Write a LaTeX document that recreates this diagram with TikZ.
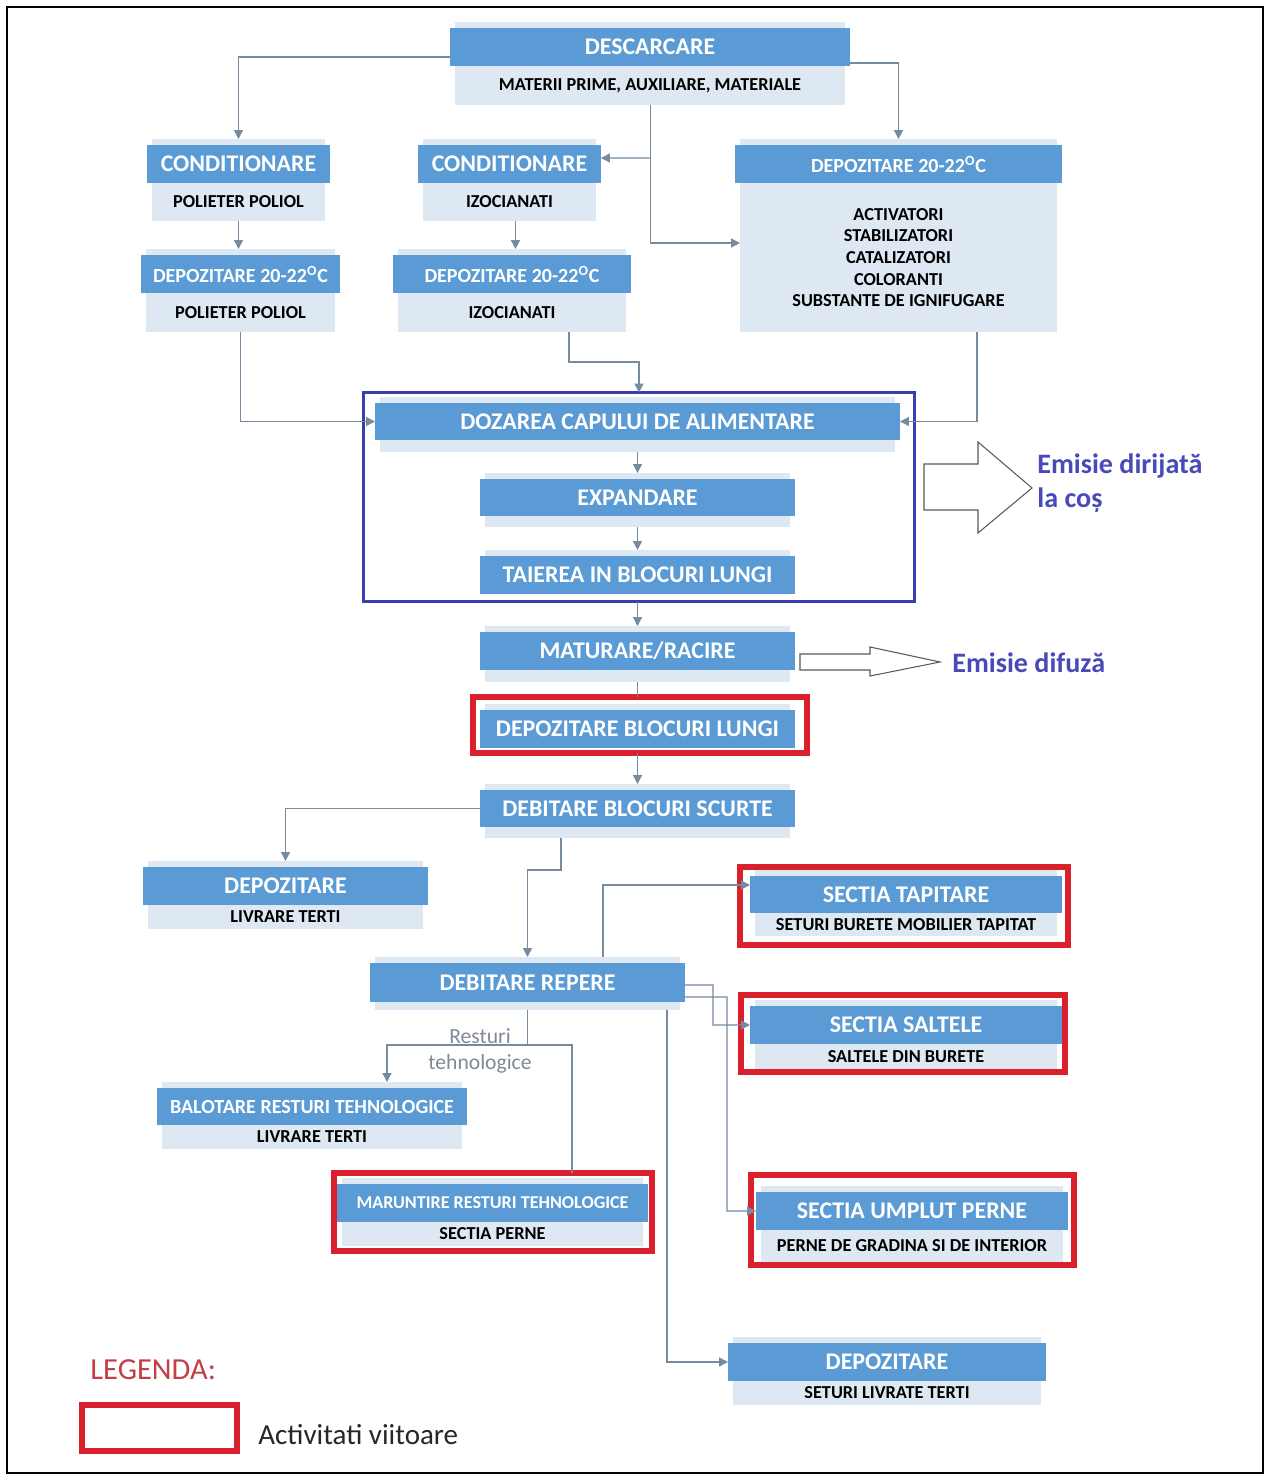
\documentclass[tikz,border=0pt]{standalone}
\usepackage{fontspec}
\setmainfont{Carlito}
\usetikzlibrary{arrows.meta,calc}
\definecolor{hblue}{RGB}{91,155,213}
\definecolor{litec}{RGB}{221,232,243}
\definecolor{lcol}{RGB}{118,138,160}
\definecolor{rbox}{RGB}{218,32,44}
\definecolor{gbox}{RGB}{58,62,172}
\definecolor{emis}{RGB}{72,74,186}
\definecolor{legr}{RGB}{196,62,72}
\definecolor{restc}{RGB}{128,138,150}

\newcommand{\pbox}[9][]{%
 \begin{scope}[#1]
 \node[litebox, minimum width={(#4-#3-10)*0.02cm}, minimum height={(#7-#5+6)*0.02cm}] (#2-l) at ({(#3+#4)/2},{(#5-6+#7)/2}) {};
 \node[hdr, minimum width={(#4-#3)*0.02cm}, minimum height={(#6-#5)*0.02cm}] (#2) at ({(#3+#4)/2},{(#5+#6)/2}) {#8};
 \node[subt] (#2-t) at ({(#3+#4)/2},{(#6+#7)/2}) {#9};
 \end{scope}}

\begin{document}
\begin{tikzpicture}[x=0.02cm,y=-0.02cm,
 litebox/.style={fill=litec, draw=none, inner sep=0pt, outer sep=0pt},
 hdr/.style={fill=hblue, text=white, inner sep=0pt, outer sep=0pt, font=\fontsize{13.6}{15}\selectfont\bfseries},
 subt/.style={inner sep=0pt, outer sep=0pt, align=center, text=black, font=\fontsize{10.4}{12.3}\selectfont\bfseries},
 small/.style={hdr/.append style={font=\fontsize{11.4}{13}\selectfont\bfseries}},
 smaller/.style={hdr/.append style={font=\fontsize{10.3}{12}\selectfont\bfseries}},
 conn/.style={draw=lcol, line width=0.8pt, -{Triangle[length=5pt,width=5pt]}},
 plainln/.style={draw=lcol, line width=0.8pt},
 redbox/.style 2 args={draw=rbox, line width=3.4pt, inner sep=0pt, outer sep=0pt, minimum width={#1*0.02cm}, minimum height={#2*0.02cm}},
 hollow/.style={draw=black!65, line width=0.6pt, fill=white},
 emtext/.style={text=emis, font=\fontsize{16}{18}\selectfont\bfseries, anchor=west, inner sep=0pt}
]
\fill[white] (0,0) rectangle (1269,1480);
\useasboundingbox (0,0) rectangle (1269,1480);
\draw[black, line width=1.2pt] (7,7) rectangle (1263,1473);

% boxes
\pbox{desc}{450}{850}{28}{66}{105}{DESCARCARE}{MATERII PRIME, AUXILIARE, MATERIALE}
\pbox{condL}{147}{330}{145}{183}{221}{CONDITIONARE}{POLIETER POLIOL}
\pbox{condM}{418}{601}{145}{183}{221}{CONDITIONARE}{IZOCIANATI}
\pbox[small]{depL}{141}{340}{255}{293}{332}{DEPOZITARE 20-22\textsuperscript{O}C}{POLIETER POLIOL}
\pbox[small]{depM}{393}{631}{255}{293}{332}{DEPOZITARE 20-22\textsuperscript{O}C}{IZOCIANATI}
\pbox[small]{depR}{735}{1062}{145}{183}{332}{DEPOZITARE 20-22\textsuperscript{O}C}{ACTIVATORI\\STABILIZATORI\\CATALIZATORI\\COLORANTI\\SUBSTANTE DE IGNIFUGARE}
\pbox{doz}{375}{900}{403}{440}{452}{DOZAREA CAPULUI DE ALIMENTARE}{}
\pbox{exp}{480}{795}{479}{516}{527}{EXPANDARE}{}
\pbox{tai}{480}{795}{556}{594}{594}{TAIEREA IN BLOCURI LUNGI}{}
\pbox{mat}{480}{795}{632}{670}{682}{MATURARE/RACIRE}{}
\pbox{dbl}{480}{795}{710}{748}{748}{DEPOZITARE BLOCURI LUNGI}{}
\pbox{dbs}{480}{795}{790}{827}{838}{DEBITARE BLOCURI SCURTE}{}
\pbox{depLL}{143}{428}{867}{905}{929}{DEPOZITARE}{LIVRARE TERTI}
\pbox{drep}{370}{685}{963}{1002}{1010}{DEBITARE REPERE}{}
\pbox{tap}{750}{1062}{876}{913}{936}{SECTIA TAPITARE}{SETURI BURETE MOBILIER TAPITAT}
\pbox{sal}{750}{1062}{1006}{1044}{1070}{SECTIA SALTELE}{SALTELE DIN BURETE}
\pbox{ump}{756}{1068}{1192}{1230}{1262}{SECTIA UMPLUT PERNE}{PERNE DE GRADINA SI DE INTERIOR}
\pbox[small]{bal}{157}{467}{1088}{1125}{1149}{BALOTARE RESTURI TEHNOLOGICE}{LIVRARE TERTI}
\pbox[smaller]{mar}{337}{648}{1184}{1222}{1246}{MARUNTIRE RESTURI TEHNOLOGICE}{SECTIA PERNE}
\pbox{depBR}{728}{1046}{1343}{1381}{1405}{DEPOZITARE}{SETURI LIVRATE TERTI}

% group and red frames
\node[draw=gbox, line width=1.7pt, inner sep=0pt, outer sep=0pt, minimum width={551*0.02cm}, minimum height={209*0.02cm}] (grp) at (639,497) {};
\node[redbox={334}{56}] (dblr) at (640,725) {};
\node[redbox={328}{78}] (tapr) at (904,906) {};
\node[redbox={324}{77}] (salr) at (903,1033.5) {};
\node[redbox={323}{90}] (umpr) at (912.5,1220) {};
\node[redbox={318}{78}] (marr) at (493,1212) {};

% connectors
\draw[conn] ($(desc.west)+(0,10)$) -| (condL-l.north);
\draw[conn] ($(desc.east)+(0,16)$) -| (depR-l.north);
\draw[conn] ($(desc-l.south)+(0.5,0)$) |- ($(depR-l.west)+(0,7.5)$);
\draw[conn] ($(desc-l.south)+(0.5,53)$) -- ($(condM.east)+(0,-6)$);
\draw[conn] (condL-l.south) -- (condL-l.south |- depL-l.north);
\draw[conn] ($(condM-l.south)+(6,0)$) -- ($(condM-l.south |- depM-l.north)+(6,0)$);
\draw[conn] (depL-l.south) |- (doz.west);
\draw[conn] ($(depM-l.south)+(57,0)$) -- ++(0,30) -| (grp.north);
\draw[conn] ($(depR-l.south)+(78.5,0)$) |- (doz.east);
\draw[conn] (doz-l.south) -- (exp-l.north);
\draw[conn] (exp-l.south) -- (tai-l.north);
\draw[conn] (mat-l.north |- grp.south) -- (mat-l.north);
\draw[plainln] (mat-l.south) -- (mat-l.south |- dblr.north);
\draw[conn] (dbs-l.north |- dblr.south) -- (dbs-l.north);
\draw[conn] (dbs.west) -| (depLL-l.north);
\draw[conn] ($(dbs-l.south)+(-76.5,0)$) -- ++(0,32) -| (drep-l.north);
\draw[conn] ($(drep-l.north)+(75.5,0)$) |- ($(tap.west)+(0,-9.5)$);
\draw[conn] ($(drep.east)+(0,2.5)$) -- (713,985) |- (sal.west);
\draw[conn] ($(drep.east)+(0,14.5)$) -- (727,997) |- (ump.west);
\draw[conn] ($(drep-l.south)+(139.5,0)$) |- (depBR.west);
\draw[conn] (drep-l.south) -- ++(0,35) -| ($(bal-l.north)+(75,0)$);
\draw[plainln] ($(drep-l.south)+(0,35)$) -| ($(marr.north)+(79,0)$);

\node[text=restc, font=\fontsize{12.3}{14.8}\selectfont, align=center, inner sep=0pt] (rest) at (480,1051) {Resturi\\tehnologice};

% emission arrows
\draw[hollow] (924,464) -- (978,464) -- (978,442) -- (1032,488) -- (978,533) -- (978,510) -- (924,510) -- cycle;
\node[emtext] (em1) at (1037,466) {Emisie dirijată};
\node[emtext] (em2) at (1037,500) {la coș};
\draw[hollow] (800,654) -- (870,654) -- (870,647) -- (940,662) -- (870,676) -- (870,670) -- (800,670) -- cycle;
\node[emtext] (em3) at (952,663) {Emisie difuză};

% legend
\node[text=legr, font=\fontsize{17.4}{19}\selectfont, anchor=west, inner sep=0pt] (leg) at (90,1370) {LEGENDA:};
\node[redbox={155}{46}] (legbox) at (159.5,1428) {};
\node[text=black!85, font=\fontsize{16.5}{18}\selectfont, anchor=west, inner sep=0pt] (legt) at (258,1435) {Activitati viitoare};
\end{tikzpicture}
\end{document}
